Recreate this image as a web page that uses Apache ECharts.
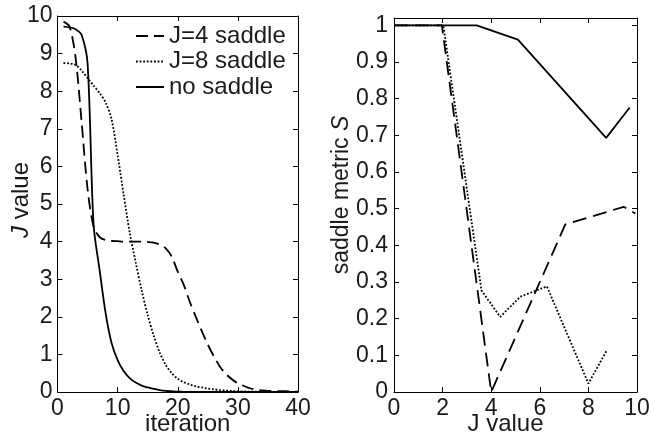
<!DOCTYPE html>
<html>
<head>
<meta charset="utf-8">
<script src="https://cdn.jsdelivr.net/npm/echarts@6/dist/echarts.min.js"></script>
<style>
  html, body { margin: 0; padding: 0; background: #fff; }
  #chart { width: 649px; height: 441px; }
</style>
</head>
<body>
<div id="chart"></div>
<script>
// ─── left panel: J value vs iteration ───────────────────────────────────────
const iterations = [1, 2, 3, 4, 5, 6, 7, 8, 9, 10, 11, 12, 13, 14, 15, 16, 17, 18, 19, 20,
  21, 22, 23, 24, 25, 26, 27, 28, 29, 30, 31, 32, 33, 34, 35, 36, 37, 38, 39, 40];
const j4Saddle = [9.85, 9.72, 8.9, 7.2, 5.4, 4.4, 4.12, 4.04, 4.02, 4.01, 4.0, 4.0, 4.0, 4.0, 3.99, 3.97, 3.92, 3.82, 3.6, 3.2,
  2.85, 2.4, 2.0, 1.62, 1.26, 0.95, 0.68, 0.48, 0.34, 0.23, 0.16, 0.1, 0.06, 0.04, 0.03, 0.03, 0.02, 0.02, 0.01, 0.01];
const j8Saddle = [8.75, 8.74, 8.7, 8.55, 8.35, 8.15, 7.95, 7.7, 7.25, 6.3, 5.25, 4.25, 3.45, 2.7, 2.05, 1.5, 1.05, 0.72, 0.5, 0.35,
  0.26, 0.2, 0.15, 0.12, 0.09, 0.07, 0.05, 0.04, 0.03, 0.02, 0.015, 0.01, 0.008, 0.005, 0.005, 0.004, 0.003, 0.002, 0.001, 0.0];
const noSaddle = [9.72, 9.7, 9.65, 9.5, 8.74, 4.45, 3.25, 2.1, 1.3, 0.85, 0.56, 0.37, 0.25, 0.17, 0.12, 0.08, 0.05, 0.03, 0.02, 0.01,
  0.005, 0, 0, 0, 0, 0, 0, 0, 0, 0, 0, 0, 0, 0, 0, 0, 0, 0, 0, 0];

// ─── right panel: saddle metric S vs J value ────────────────────────────────
const s4X = [0, 1.97, 4.0, 7.05, 9.45, 9.93];
const s4Y = [1, 1, 0, 0.457, 0.505, 0.487];
const s8X = [0, 2.03, 3.6, 4.37, 5.2, 6.29, 8.0, 8.76];
const s8Y = [1, 1, 0.277, 0.205, 0.26, 0.288, 0.023, 0.114];
const s0X = [0, 3.4, 5.1, 8.73, 9.7];
const s0Y = [1, 1, 0.961, 0.693, 0.776];

const seriesNames = ["J=4 saddle", "J=8 saddle", "no saddle"];

const TEXT = "#1a1a1a";
const FONT = "Liberation Sans, Arial, Helvetica, sans-serif";
const dashLeft = [12, 6];
const dashRight = [14, 7];
const dots = [1.8, 1.8];

const pairs = (xs, ys) => xs.map((x, i) => [x, ys[i]]);

function axisBase(extra) {
  return Object.assign({
    type: "value",
    nameMoveOverlap: false,
    axisLine: { show: true, onZero: false, lineStyle: { color: "#000", width: 1 } },
    axisTick: { show: true, inside: true, length: 5, lineStyle: { color: "#000", width: 1 } },
    splitLine: { show: false },
    axisLabel: { color: TEXT, fontFamily: FONT, fontSize: 23, margin: 5 },
    nameTextStyle: { color: TEXT, fontFamily: FONT, fontSize: 24 },
  }, extra);
}
const mirror = (extra) => axisBase(Object.assign({ axisLabel: { show: false } }, extra));

const chart = echarts.init(document.getElementById("chart"), null, { renderer: "canvas" });
chart.setOption({
  backgroundColor: "#fff",
  animation: false,
  textStyle: { fontFamily: FONT, color: TEXT },
  grid: [
    { left: 57.5, right: 351, top: 16, bottom: 49, containLabel: false, outerBoundsMode: "none" },
    { left: 394, right: 12, top: 18, bottom: 49, containLabel: false, outerBoundsMode: "none" },
  ],
  legend: {
    data: seriesNames,
    orient: "vertical",
    left: 135,
    top: 24,
    padding: 0,
    itemGap: 1.5,
    itemWidth: 28,
    itemHeight: 14,
    itemStyle: { opacity: 0 },
    textStyle: { color: TEXT, fontFamily: FONT, fontSize: 24 },
  },
  xAxis: [
    axisBase({
      gridIndex: 0, min: 0, max: 40, interval: 10,
      name: "iteration", nameLocation: "middle", nameGap: 20,
      nameTextStyle: { color: TEXT, fontFamily: FONT, fontSize: 24, padding: [0, 0, 0, 20] },
    }),
    mirror({ gridIndex: 0, min: 0, max: 40, interval: 10, position: "top" }),
    axisBase({
      gridIndex: 1, min: 0, max: 10, interval: 2,
      name: "J value", nameLocation: "middle", nameGap: 20,
      nameTextStyle: { color: TEXT, fontFamily: FONT, fontSize: 24, padding: [0, 20, 0, 0] },
    }),
    mirror({ gridIndex: 1, min: 0, max: 10, interval: 2, position: "top" }),
  ],
  yAxis: [
    axisBase({
      gridIndex: 0, min: 0, max: 10, interval: 1,
      name: "{i|J} value", nameLocation: "middle", nameGap: 24,
      nameTextStyle: {
        color: TEXT, fontFamily: FONT, fontSize: 24, padding: [0, 0, 0, 8],
        rich: { i: { fontStyle: "italic", fontFamily: FONT, fontSize: 24, color: TEXT } },
      },
    }),
    mirror({ gridIndex: 0, min: 0, max: 10, interval: 1, position: "right" }),
    axisBase({
      gridIndex: 1, min: 0, max: 1.02, interval: 0.1,
      axisLabel: { color: TEXT, fontFamily: FONT, fontSize: 23, margin: 6, showMaxLabel: false },
      name: "saddle metric {i|S}", nameLocation: "middle", nameGap: 41,
      nameTextStyle: {
        color: TEXT, fontFamily: FONT, fontSize: 23, padding: [0, 0, 0, 20],
        rich: { i: { fontStyle: "italic", fontFamily: FONT, fontSize: 23, color: TEXT } },
      },
    }),
    mirror({ gridIndex: 1, min: 0, max: 1.02, interval: 0.1, position: "right" }),
  ],
  series: [
    {
      name: seriesNames[0], type: "line", xAxisIndex: 0, yAxisIndex: 0,
      data: pairs(iterations, j4Saddle), symbol: "none", smooth: 0.3,
      lineStyle: { color: "#000", width: 1.8, type: dashLeft },
      itemStyle: { color: "#000" },
    },
    {
      name: seriesNames[1], type: "line", xAxisIndex: 0, yAxisIndex: 0,
      data: pairs(iterations, j8Saddle), symbol: "none", smooth: 0.3,
      lineStyle: { color: "#000", width: 1.8, type: dots },
      itemStyle: { color: "#000" },
    },
    {
      name: seriesNames[2], type: "line", xAxisIndex: 0, yAxisIndex: 0,
      data: pairs(iterations, noSaddle), symbol: "none", smooth: 0.3,
      lineStyle: { color: "#000", width: 1.8, type: "solid" },
      itemStyle: { color: "#000" },
    },
    {
      name: seriesNames[0], type: "line", xAxisIndex: 2, yAxisIndex: 2,
      data: pairs(s4X, s4Y), symbol: "none",
      lineStyle: { color: "#000", width: 1.8, type: dashRight },
      itemStyle: { color: "#000" },
    },
    {
      name: seriesNames[1], type: "line", xAxisIndex: 2, yAxisIndex: 2,
      data: pairs(s8X, s8Y), symbol: "none",
      lineStyle: { color: "#000", width: 1.8, type: dots },
      itemStyle: { color: "#000" },
    },
    {
      name: seriesNames[2], type: "line", xAxisIndex: 2, yAxisIndex: 2,
      data: pairs(s0X, s0Y), symbol: "none",
      lineStyle: { color: "#000", width: 1.8, type: "solid" },
      itemStyle: { color: "#000" },
    },
  ],
});
</script>
</body>
</html>
